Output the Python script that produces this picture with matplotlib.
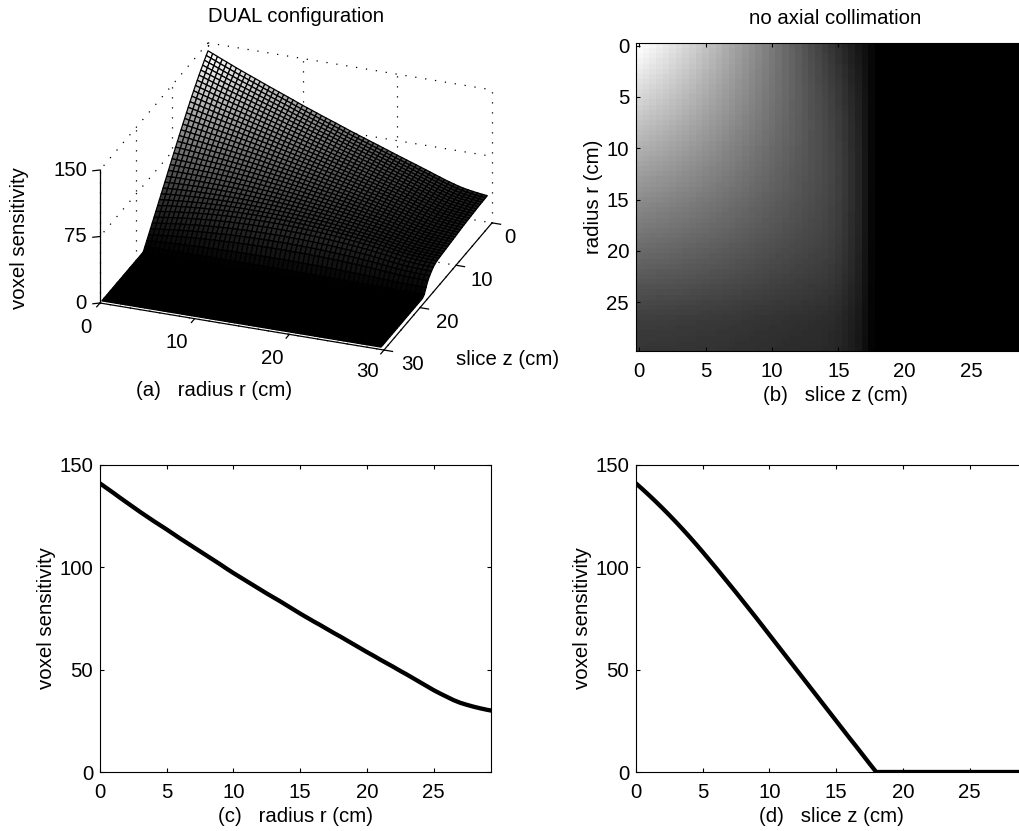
import matplotlib
matplotlib.use("Agg")
import matplotlib.pyplot as plt
import numpy as np
from mpl_toolkits.mplot3d import proj3d

plt.rcParams['font.family'] = ['Liberation Sans', 'DejaVu Sans']
plt.rcParams['font.size'] = 14.7
plt.rcParams['axes.linewidth'] = 0.8

W, H = 1019, 831

# sensitivity, r = 0 ... 29.5 in 0.5 cm steps
sens_r = [141.0, 138.7, 136.4, 134.0, 131.7, 129.4, 127.1, 124.9, 122.7, 120.6,
          118.5, 116.3, 114.1, 112.0, 109.9, 107.8, 105.7, 103.6, 101.5, 99.3,
          97.2, 95.2, 93.2, 91.2, 89.2, 87.2, 85.3, 83.4, 81.4, 79.4,
          77.4, 75.5, 73.6, 71.8, 69.9, 68.0, 66.2, 64.3, 62.4, 60.5,
          58.6, 56.8, 54.9, 53.1, 51.3, 49.4, 47.6, 45.7, 43.8, 41.9,
          40.0, 38.3, 36.7, 35.1, 33.8, 32.8, 31.9, 31.1, 30.4, 29.8]

# sensitivity, r = 0, z = 0 ... 29.5 in 0.5 cm steps
sens_z = [141.0, 138.1, 135.1, 132.0, 128.8, 125.5, 122.1, 118.6, 115.0, 111.3,
          107.5, 103.6, 99.7, 95.7, 91.7, 87.7, 83.6, 79.5, 75.4, 71.2,
          67.0, 62.8, 58.6, 54.4, 50.2, 46.0, 41.8, 37.6, 33.4, 29.2,
          25.0, 20.8, 16.6, 12.5, 8.3, 4.1, 0.0, 0.0, 0.0, 0.0,
          0.0, 0.0, 0.0, 0.0, 0.0, 0.0, 0.0, 0.0, 0.0, 0.0,
          0.0, 0.0, 0.0, 0.0, 0.0, 0.0, 0.0, 0.0, 0.0, 0.0]

# far edge of the surface in (a) and last row of (b), r = 29.5
sens_edge = [29.8, 29.7, 29.6, 29.5, 29.4, 29.3, 29.1, 28.9, 28.7, 28.5,
             28.3, 28.1, 27.9, 27.7, 27.4, 27.1, 26.8, 26.5, 26.2, 25.9,
             25.6, 25.3, 25.0, 24.7, 24.4, 24.1, 23.8, 23.5, 23.1, 22.3,
             20.8, 18.6, 16.0, 12.8, 7.5, 2.0, 0.0, 0.0, 0.0, 0.0,
             0.0, 0.0, 0.0, 0.0, 0.0, 0.0, 0.0, 0.0, 0.0, 0.0,
             0.0, 0.0, 0.0, 0.0, 0.0, 0.0, 0.0, 0.0, 0.0, 0.0]

ticks_cm = [0, 5, 10, 15, 20, 25]
ticks_3d = [0, 10, 20, 30]
ticks_h = [0, 75, 150]
ticks_sens = [0, 50, 100, 150]


def rect(left, top, right, bottom):
    return [left / W, 1 - bottom / H, (right - left) / W, (bottom - top) / H]


def label(x, y, s, **kw):
    fig.text(x / W, 1 - y / H, s, ha=kw.pop('ha', 'center'), va='center', **kw)


r = np.arange(60) * 0.5
z = np.arange(60) * 0.5

# grid built from the read profiles: axial shape goes from the r = 0 one to the r = 29.5 one
shape_in = np.array(sens_z) / sens_z[0]
shape_out = np.array(sens_edge) / sens_edge[0]
w = (r / r[-1])[:, None]
sens = np.array(sens_r)[:, None] * ((1 - w) * shape_in + w * shape_out)

fig = plt.figure(figsize=(W / 100, H / 100), dpi=100)

# (a) surface
ax = fig.add_axes(rect(60, 0, 540, 480), projection='3d', computed_zorder=False)
ax.set_proj_type('ortho')
ax.view_init(elev=26.2, azim=-69.44)
aspect = (303.3, 307.6, 148.2)
ax.set_box_aspect(aspect)
ax.set_xlim(0, 30)
ax.set_ylim(30, 0)
ax.set_zlim(0, 150)
ax.set_axis_off()

dot = dict(color='k', ls=(0, (1, 7)), lw=0.9, zorder=1)
for t in ticks_3d:
    ax.plot([t, t], [0, 0], [0, 150], **dot)
    ax.plot([0, 0], [t, t], [0, 150], **dot)
    ax.plot([t, t], [0, 30], [0, 0], **dot)
    ax.plot([0, 30], [t, t], [0, 0], **dot)
for h in ticks_h[1:]:
    ax.plot([0, 30], [0, 0], [h, h], **dot)
    ax.plot([0, 0], [0, 30], [h, h], **dot)

X, Y = np.meshgrid(r, z, indexing='ij')
ax.plot_surface(X, Y, sens, rstride=1, cstride=1, facecolors=plt.cm.gray((sens / 141.0) ** 1.3),
                edgecolor='k', linewidth=0.9, shade=False, zorder=2)

line = dict(color='k', lw=0.9, zorder=3)
ax.plot([0, 30], [30, 30], [0, 0], **line)
ax.plot([30, 30], [30, 0], [0, 0], **line)
ax.plot([0, 0], [30, 30], [0, 150], **line)
for t in ticks_3d:
    ax.plot([t, t], [30, 30.9], [0, 0], **line)
    ax.plot([30, 30.9], [t, t], [0, 0], **line)
for h in ticks_h:
    ax.plot([0, -0.6], [30, 30.4], [h, h], **line)

# fit the box onto the corners seen in the picture
target_a = np.array([100.0, H - 303.0])
target_b = np.array([384.0, H - 350.0])


def corner(p):
    x2, y2, _ = proj3d.proj_transform(p[0], p[1], p[2], ax.get_proj())
    return ax.transData.transform((x2, y2))


fig.canvas.draw()
scale = (target_b[0] - target_a[0]) / (corner((30, 30, 0))[0] - corner((0, 30, 0))[0])
ax.set_box_aspect(aspect, zoom=scale)
fig.canvas.draw()
shift = target_a - corner((0, 30, 0))
pos = ax.get_position()
ax.set_position([pos.x0 + shift[0] / W, pos.y0 + shift[1] / H, pos.width, pos.height])

label(296, 17, 'DUAL configuration')
label(20, 238, 'voxel sensitivity', rotation=90)
label(87, 170, '150', ha='right')
label(87, 236, '75', ha='right')
label(87, 303, '0', ha='right')
label(86, 327, '0')
label(177, 342, '10')
label(272, 358, '20')
label(367, 372, '30')
label(412, 365, '30')
label(447, 323, '20')
label(482, 280, '10')
label(510, 238, '0')
label(508, 360, 'slice z (cm)')
label(214, 390, '(a)   radius r (cm)')

# (b) image
ax_b = fig.add_axes(rect(636, 43, 1034, 351))
ax_b.imshow(sens, cmap='gray', vmin=0, vmax=141, aspect='auto', interpolation='nearest',
            extent=(r[0] - 0.25, r[-1] + 0.25, z[-1] + 0.25, z[0] - 0.25))
ax_b.set_xticks(ticks_cm)
ax_b.set_yticks(ticks_cm)
ax_b.set_title('no axial collimation', fontsize=14.7, pad=14)
ax_b.set_xlabel('(b)   slice z (cm)', labelpad=3.5)
ax_b.set_ylabel('radius r (cm)', labelpad=2.5)

# (c) and (d) profiles
ax_c = fig.add_axes(rect(100, 465, 491, 772))
ax_c.plot(r, sens_r, color='k', lw=3.1)
ax_c.set_xlabel('(c)   radius r (cm)', labelpad=3.5)

ax_d = fig.add_axes(rect(636, 465, 1027, 772))
ax_d.plot(z, sens_z, color='k', lw=3.1)
ax_d.set_xlabel('(d)   slice z (cm)', labelpad=3.5)

for a in (ax_c, ax_d):
    a.set_xlim(0, 29.3)
    a.set_ylim(0, 150)
    a.set_xticks(ticks_cm)
    a.set_yticks(ticks_sens)
    a.set_ylabel('voxel sensitivity', labelpad=2.5)

for a in (ax_b, ax_c, ax_d):
    a.tick_params(direction='in', length=3, width=0.8, top=True, right=True, labelsize=14.7)
    a.tick_params(axis='x', pad=8)
    a.tick_params(axis='y', pad=5)

fig.savefig('out.png', dpi=100)
